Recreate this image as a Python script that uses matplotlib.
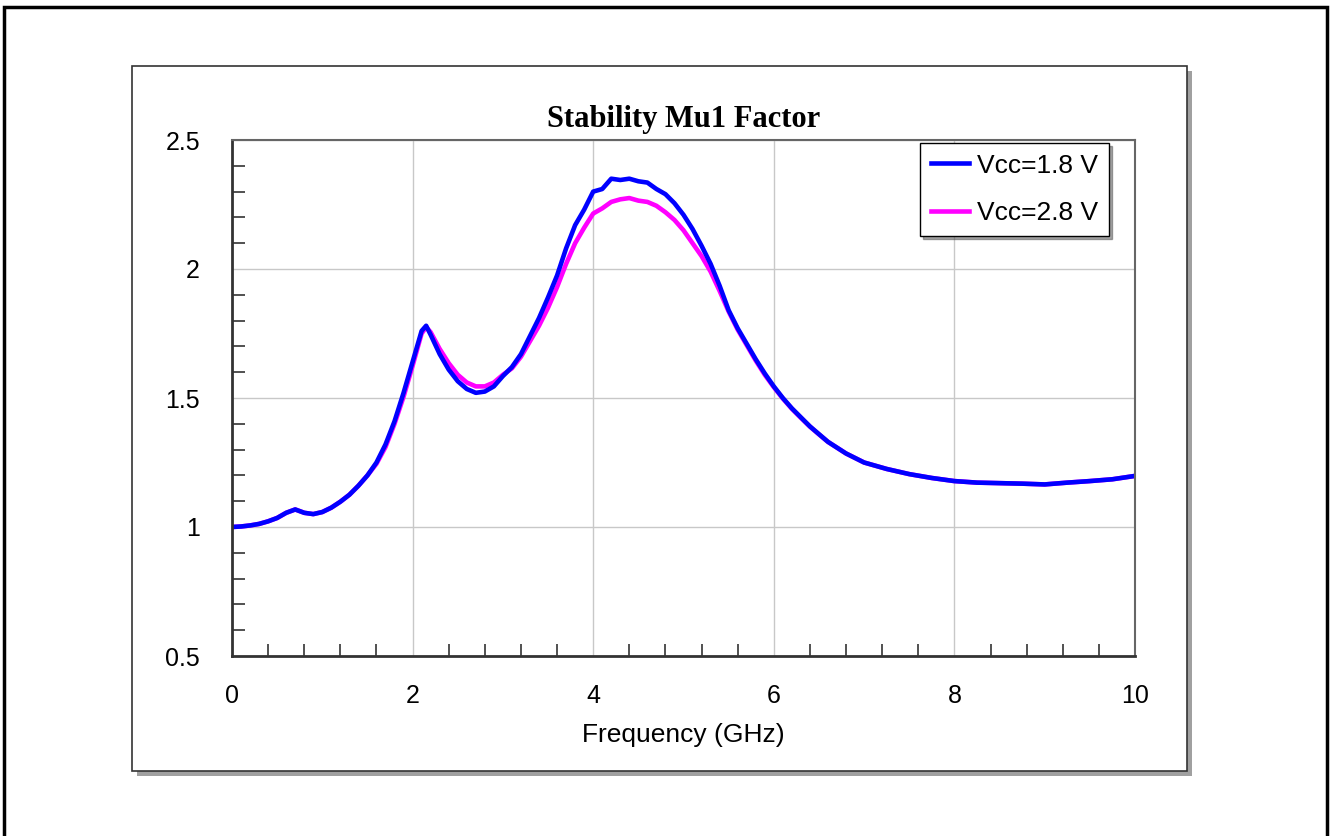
import matplotlib
matplotlib.use("Agg")
import matplotlib.pyplot as plt
from matplotlib.patches import Rectangle

plt.rcParams['font.family'] = ['Liberation Sans', 'DejaVu Sans']

# frequency grid (GHz) and Mu1 stability factor
freq = [0.0, 0.1, 0.2, 0.3, 0.4, 0.5, 0.6, 0.7, 0.8, 0.9,
        1.0, 1.1, 1.2, 1.3, 1.4, 1.5, 1.6, 1.7, 1.8, 1.9,
        2.0, 2.1, 2.15, 2.2, 2.3, 2.4, 2.5, 2.6, 2.7, 2.8, 2.9,
        3.0, 3.1, 3.2, 3.3, 3.4, 3.5, 3.6, 3.7, 3.8, 3.9,
        4.0, 4.1, 4.2, 4.3, 4.4, 4.5, 4.6, 4.7, 4.8, 4.9,
        5.0, 5.1, 5.2, 5.3, 5.4, 5.5, 5.6, 5.7, 5.8, 5.9,
        6.0, 6.1, 6.2, 6.3, 6.4, 6.5, 6.6, 6.8, 7.0, 7.25,
        7.5, 7.75, 8.0, 8.25, 8.5, 8.75, 9.0, 9.25, 9.5, 9.75, 10.0]

mu_18 = [1.000, 1.002, 1.006, 1.012, 1.022, 1.035, 1.055, 1.068, 1.055, 1.050,
         1.058, 1.075, 1.098, 1.125, 1.160, 1.200, 1.250, 1.320, 1.410, 1.520,
         1.640, 1.760, 1.780, 1.745, 1.670, 1.610, 1.565, 1.535, 1.520, 1.525, 1.545,
         1.585, 1.620, 1.670, 1.740, 1.810, 1.890, 1.975, 2.080, 2.170, 2.230,
         2.300, 2.310, 2.350, 2.345, 2.350, 2.340, 2.335, 2.310, 2.290, 2.255,
         2.210, 2.155, 2.090, 2.020, 1.935, 1.840, 1.770, 1.710, 1.650, 1.595,
         1.545, 1.500, 1.460, 1.425, 1.390, 1.360, 1.330, 1.285, 1.250, 1.225,
         1.205, 1.190, 1.178, 1.172, 1.170, 1.168, 1.165, 1.172, 1.178, 1.185, 1.198]

mu_28 = [1.000, 1.002, 1.006, 1.012, 1.022, 1.035, 1.055, 1.068, 1.055, 1.050,
         1.058, 1.075, 1.098, 1.125, 1.160, 1.200, 1.245, 1.310, 1.400, 1.505,
         1.625, 1.750, 1.775, 1.755, 1.690, 1.635, 1.590, 1.560, 1.545, 1.545, 1.560,
         1.590, 1.615, 1.660, 1.720, 1.780, 1.850, 1.930, 2.020, 2.100, 2.160,
         2.215, 2.235, 2.260, 2.270, 2.275, 2.265, 2.260, 2.245, 2.220, 2.190,
         2.150, 2.100, 2.050, 1.990, 1.915, 1.835, 1.765, 1.705, 1.645, 1.590,
         1.542, 1.498, 1.458, 1.423, 1.389, 1.359, 1.330, 1.285, 1.250, 1.225,
         1.205, 1.190, 1.178, 1.172, 1.170, 1.168, 1.165, 1.172, 1.178, 1.185, 1.198]

W, H = 1330, 836
fig = plt.figure(figsize=(W / 100, H / 100), dpi=100)

def px_rect(x0, y0, x1, y1, **kw):
    # rectangle given in image pixels (origin top-left)
    return Rectangle((x0 / W, 1 - y1 / H), (x1 - x0) / W, (y1 - y0) / H,
                     transform=fig.transFigure, **kw)

# outer frame
fig.patches.append(px_rect(4, 7, 1327, 845, fill=False, edgecolor='black', linewidth=2.5))
# panel shadow + panel
fig.patches.append(px_rect(137, 71, 1192, 776, facecolor='#a0a0a0', edgecolor='none'))
fig.patches.append(px_rect(132, 66, 1187, 771, facecolor='white', edgecolor='#333333', linewidth=1.2))

ax = fig.add_axes([232 / W, 1 - 656 / H, (1135 - 232) / W, (656 - 140) / H])
ax.set_zorder(2)

ax.plot(freq, mu_28, color='#ff00ff', linewidth=3.3, label='Vcc=2.8 V')
ax.plot(freq, mu_18, color='#0000ff', linewidth=3.3, label='Vcc=1.8 V')

ax.set_xlim(0, 10)
ax.set_ylim(0.5, 2.5)
ax.set_xticks([0, 2, 4, 6, 8, 10])
ax.set_yticks([0.5, 1, 1.5, 2, 2.5])
ax.set_yticklabels(['0.5', '1', '1.5', '2', '2.5'])
ax.set_xticks([i * 0.4 for i in range(26)], minor=True)
ax.set_yticks([0.5 + i * 0.1 for i in range(21)], minor=True)
ax.tick_params(which='major', length=0, labelsize=18)
ax.tick_params(axis='x', which='major', pad=20)
ax.tick_params(axis='y', which='major', pad=23)
ax.tick_params(which='minor', direction='in', length=9, width=1.2, color='#333333')
ax.grid(True, which='major', color='#c8c8c8', linewidth=1)

for side in ['left', 'bottom']:
    ax.spines[side].set_linewidth(2)
    ax.spines[side].set_color('#333333')
for side in ['top', 'right']:
    ax.spines[side].set_linewidth(1.5)
    ax.spines[side].set_color('#666666')

ax.set_xlabel('Frequency (GHz)', fontsize=19, labelpad=11)
ax.set_title('Stability Mu1 Factor', fontsize=22, fontweight='bold',
             family='Liberation Serif', pad=9)

handles, labels = ax.get_legend_handles_labels()
leg = ax.legend(handles[::-1], labels[::-1], loc='upper right',
                bbox_to_anchor=(0.971, 0.994), fontsize=19, frameon=True,
                fancybox=False, shadow=True, edgecolor='black',
                handlelength=1.45, handletextpad=0.3, labelspacing=0.9,
                borderaxespad=0, borderpad=0.4)
leg.get_frame().set_linewidth(1)

fig.savefig('out.png', dpi=100)
